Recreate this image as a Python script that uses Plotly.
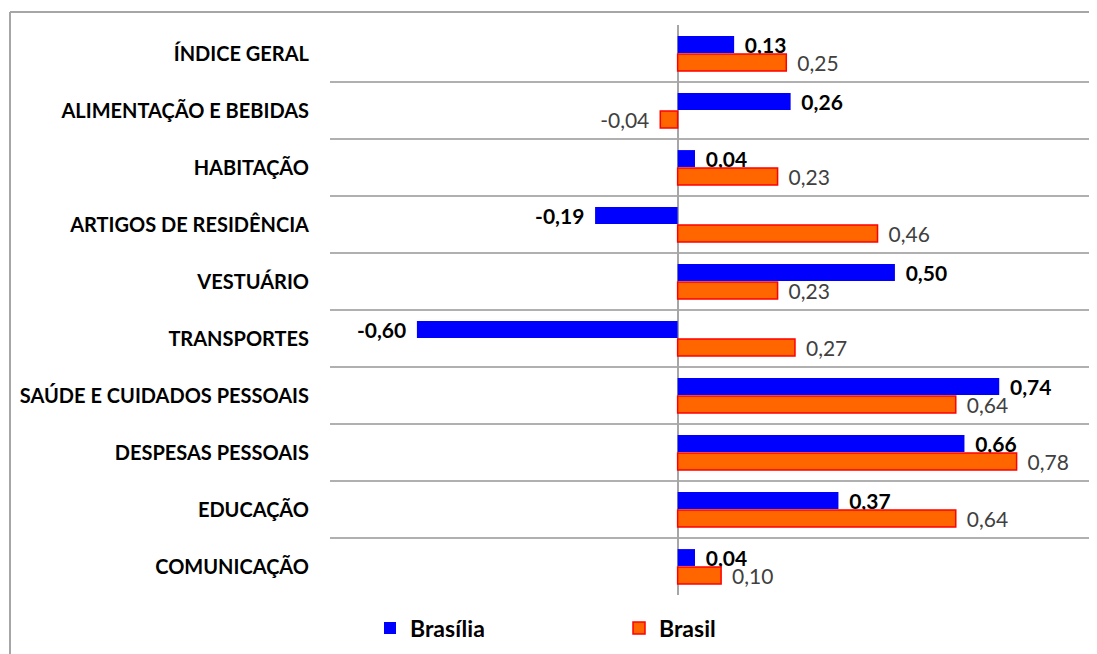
import plotly.graph_objects as go

categories = ["ÍNDICE GERAL", "ALIMENTAÇÃO E BEBIDAS", "HABITAÇÃO", "ARTIGOS DE RESIDÊNCIA",
              "VESTUÁRIO", "TRANSPORTES", "SAÚDE E CUIDADOS PESSOAIS", "DESPESAS PESSOAIS",
              "EDUCAÇÃO", "COMUNICAÇÃO"]
brasilia = [0.13, 0.26, 0.04, -0.19, 0.50, -0.60, 0.74, 0.66, 0.37, 0.04]
brasil = [0.25, -0.04, 0.23, 0.46, 0.23, 0.27, 0.64, 0.78, 0.64, 0.10]

FONT = "Lato"
OFF = 8  # page body margin
W, H = 1097 - OFF, 654 - OFF
L, T = 330 - OFF, 25 - OFF
PLOT_BOTTOM = 595 - OFF
B = H - PLOT_BOTTOM
PW, PH = W - L, H - T - B


def templates(vals):
    # a little padding between bar end and its label, on the side the label sits
    return ["\u2009 %{x:.2f}" if v >= 0 else "%{x:.2f} \u2009" for v in vals]


fig = go.Figure()
fig.add_trace(go.Bar(
    y=categories, x=brasilia, orientation="h", name="Brasília",
    marker=dict(color="#0000FF", line=dict(width=0)),
    texttemplate=templates(brasilia), textposition="outside", cliponaxis=False,
    constraintext="none",
    textfont=dict(family=FONT, size=21, color="#000000", weight="bold"),
))
fig.add_trace(go.Bar(
    y=categories, x=brasil, orientation="h", name="Brasil",
    marker=dict(color="#FF6600", line=dict(width=1.5, color="#FF0000")),
    texttemplate=templates(brasil), textposition="outside", cliponaxis=False,
    constraintext="none",
    textfont=dict(family=FONT, size=21, color="#404040"),
))

# outer chart border (left and top, chart is cropped right/bottom)
ytop = 1 + (T - (12 - OFF)) / PH
xleft = ((10 - OFF) - L) / PW
fig.add_shape(type="line", xref="paper", yref="paper",
              x0=xleft, x1=1.01, y0=ytop, y1=ytop,
              line=dict(color="#A6A6A6", width=2))
fig.add_shape(type="line", xref="paper", yref="paper",
              x0=xleft, x1=xleft, y0=ytop, y1=-B / PH - 0.02,
              line=dict(color="#A6A6A6", width=2))

fig.update_layout(
    width=W, height=H,
    margin=dict(l=L, r=0, t=T, b=B),
    paper_bgcolor="white", plot_bgcolor="white",
    separators=",.",
    barmode="group", bargap=0.37, bargroupgap=0.06,
    font=dict(family=FONT, color="#000000"),
    showlegend=True,
    legend=dict(orientation="h", x=(370 - OFF - L) / PW, xanchor="left",
                y=-(628 - 595) / PH, yanchor="middle",
                font=dict(family=FONT, size=23, color="#000000", weight="bold"),
                entrywidth=204, entrywidthmode="pixels", itemwidth=30,
                bgcolor="rgba(0,0,0,0)"),
    xaxis=dict(range=[-0.80, 0.965], showticklabels=False, showgrid=False,
               zeroline=True, zerolinecolor="#A6A6A6", zerolinewidth=2, ticks=""),
    yaxis=dict(autorange="reversed", tickson="boundaries", showgrid=True,
               gridcolor="#B0B0B0", gridwidth=2, ticks="", ticklabelstandoff=20,
               showline=False,
               tickfont=dict(family=FONT, size=20, color="#000000", weight="bold")),
)

fig.write_html("out.html")
